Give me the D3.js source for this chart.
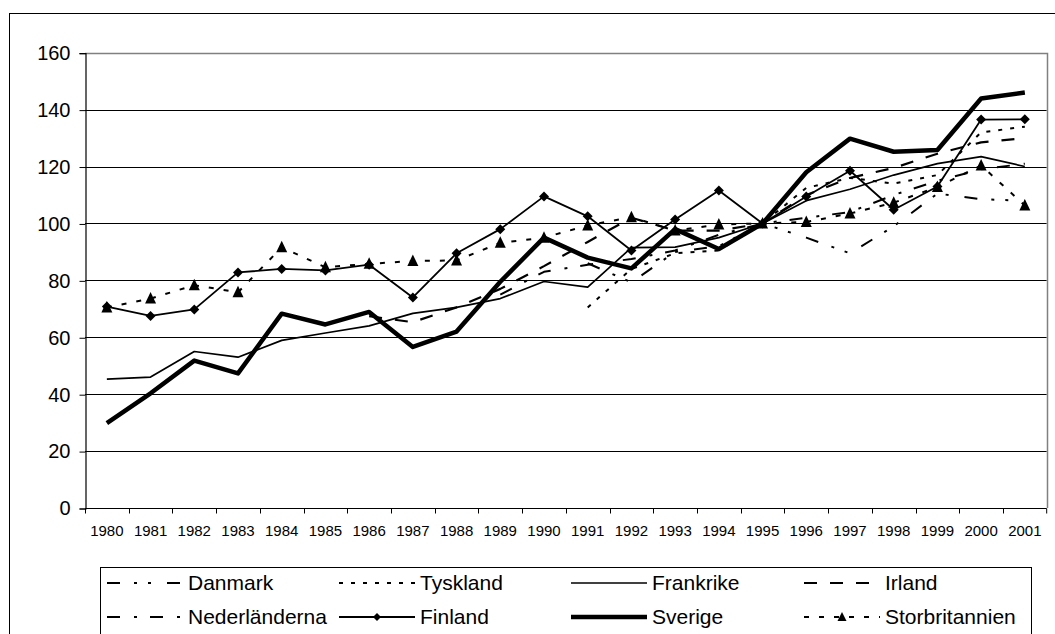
<!DOCTYPE html>
<html>
<head>
<meta charset="utf-8">
<script src="https://cdn.jsdelivr.net/npm/d3@7"></script>
<style>
  body { margin: 0; background: #fff; }
  text { font-family: "Liberation Sans", Arial, sans-serif; fill: #000; }
</style>
</head>
<body>
<svg id="chart"></svg>
<script>
// data, index 1995 = 100
var years = ["1980","1981","1982","1983","1984","1985","1986","1987","1988","1989","1990",
             "1991","1992","1993","1994","1995","1996","1997","1998","1999","2000","2001"]
var yTicks = [0, 20, 40, 60, 80, 100, 120, 140, 160]

var danmark = [null,null,null,null,null,null,null,null,null,null,null,
               86, 79.3, 90, 92, 100, 95, 89.5, 99, 110.5, 108.5, 108]
var tyskland = [null,null,null,null,null,null,null,null,null,null,null,
                70.5, 84, 89.5, 90.5, 100, 112.5, 116, 114, 117, 132, 134]
var frankrike = [45.3, 46, 55, 53, 58.9, 61.5, 64, 68.4, 70.5, 73.6, 79.6,
                 77.6, 91.5, 91.7, 95, 100, 108, 112, 117, 121, 123.5, 120]
var irland = [null,null,null,null,null,null, 67.4, 65.3, 70.5, 77, 85,
              93.5, 102, 97.5, 97.5, 100, 110, 116, 119.5, 124.5, 128.5, 130]
var nederlanderna = [null,null,null,null,null,null,null,null,null, 75, 83,
                     85.5, 87.5, 90.5, 96, 100, 102, 104, 110, 115, 119, 121]
var finland = [70.8, 67.5, 69.8, 82.8, 84, 83.5, 85.5, 74, 89.5, 98, 109.5,
               102.5, 90.5, 101.4, 111.6, 100, 109.5, 118.5, 104.8, 113, 136.5, 136.6]
var sverige = [29.8, 40.3, 51.8, 47.3, 68.3, 64.5, 68.9, 56.6, 62, 79.5, 95,
               88, 84.2, 98, 91, 100, 118, 129.8, 125.2, 125.8, 143.9, 146]
var storbritannien = [70.5, 73.6, 78.3, 75.8, 91.6, 84.6, 85.8, 86.8, 87, 93.2, 95,
                      99.3, 102.2, 97.5, 99.6, 100, 100.5, 103.5, 107.3, 112.8, 120.4, 106.3]

var series = [
  {name: "Danmark", values: danmark, width: 2, dash: "13,14,3,11,3,16"},
  {name: "Tyskland", values: tyskland, width: 2, dash: "4,8"},
  {name: "Frankrike", values: frankrike, width: 1.7, dash: null},
  {name: "Irland", values: irland, width: 2.2, dash: "13,13"},
  {name: "Nederländerna", values: nederlanderna, width: 2, dash: "13,14,3,13"},
  {name: "Finland", values: finland, width: 1.8, dash: null, marker: "diamond"},
  {name: "Sverige", values: sverige, width: 4.5, dash: null},
  {name: "Storbritannien", values: storbritannien, width: 2, dash: "5,10", marker: "triangle"}
]

// layout
const width = 1055
const height = 634
const plot = {left: 85, top: 52.7, right: 1046.7, bottom: 508}

var svg = d3.select("svg#chart").attr("width", width).attr("height", height)

// chart area frame
svg.append("rect")
  .attr("x", 9.5).attr("y", 13.5)
  .attr("width", width).attr("height", height)
  .attr("fill", "none").attr("stroke", "#000").attr("stroke-width", 1)

var x = d3.scaleBand()
  .domain(years)
  .range([plot.left, plot.right])
  .padding(0)

var y = d3.scaleLinear()
  .domain([0, 160])
  .range([plot.bottom, plot.top])

// gridlines
svg.append("g")
  .selectAll("line")
  .data(yTicks.filter(d => d > 0 && d < 160))
  .enter().append("line")
  .attr("x1", plot.left).attr("x2", plot.right)
  .attr("y1", d => Math.round(y(d)) + 0.5)
  .attr("y2", d => Math.round(y(d)) + 0.5)
  .attr("stroke", "#000").attr("stroke-width", 1)

// plot area border (top + right)
svg.append("path")
  .attr("d", "M" + plot.left + "," + (Math.round(plot.top) + 0.5) +
             "H" + (Math.round(plot.right) + 0.5) + "V" + plot.bottom)
  .attr("fill", "none").attr("stroke", "#808080").attr("stroke-width", 1.5)

// y axis
var yAxis = svg.append("g")
  .attr("transform", "translate(" + (plot.left + 0.5) + ",0.5)")
  .call(d3.axisLeft(y).tickValues(yTicks).tickSize(6).tickPadding(9))
yAxis.select(".domain").attr("stroke", "#000").attr("stroke-width", 1.2)
yAxis.selectAll(".tick line").attr("stroke", "#000")
yAxis.selectAll("text")
  .style("font-family", "'Liberation Sans', Arial, sans-serif")
  .style("font-size", "20px")
  .attr("fill", "#000")

// x axis, ticks between categories
var xAxis = svg.append("g")
  .attr("transform", "translate(0," + (Math.round(plot.bottom) + 0.5) + ")")
xAxis.append("line")
  .attr("x1", plot.left).attr("x2", plot.right)
  .attr("stroke", "#000").attr("stroke-width", 1.2)
xAxis.selectAll("line.tick")
  .data(years.concat(["end"]))
  .enter().append("line")
  .attr("class", "tick")
  .attr("x1", d => d === "end" ? plot.right : Math.round(x(d)) + 0.5)
  .attr("x2", d => d === "end" ? plot.right : Math.round(x(d)) + 0.5)
  .attr("y1", 0).attr("y2", 5)
  .attr("stroke", "#000")
xAxis.selectAll("text")
  .data(years)
  .enter().append("text")
  .attr("x", d => x(d) + x.bandwidth() / 2)
  .attr("y", 27)
  .attr("text-anchor", "middle")
  .style("font-size", "15px")
  .text(d => d)

// lines
var line = d3.line()
  .defined(d => d.v != null)
  .x(d => x(d.year) + x.bandwidth() / 2)
  .y(d => y(d.v))

var drawOrder = ["Danmark", "Tyskland", "Frankrike", "Irland", "Nederländerna", "Storbritannien", "Finland", "Sverige"]
var lines = svg.append("g")
drawOrder.forEach(function(nm) {
  var s = series.find(d => d.name === nm)
  var pts = years.map((yr, i) => ({year: yr, v: s.values[i]}))
  lines.append("path")
    .datum(pts)
    .attr("d", line)
    .attr("fill", "none")
    .attr("stroke", "#000")
    .attr("stroke-width", s.width)
    .attr("stroke-dasharray", s.dash)
    .attr("stroke-linejoin", "round")
  if (s.marker) {
    lines.append("g")
      .selectAll("path")
      .data(pts.filter(d => d.v != null))
      .enter().append("path")
      .attr("transform", d => "translate(" + (x(d.year) + x.bandwidth() / 2) + "," + y(d.v) + ")")
      .attr("d", s.marker === "diamond" ? "M0,-5L5,0L0,5L-5,0Z" : "M0,-6.5L5.5,5L-5.5,5Z")
      .attr("fill", "#000")
  }
})

// legend
var legend = svg.append("g")
legend.append("rect")
  .attr("x", 100.5).attr("y", 567.5)
  .attr("width", 931).attr("height", 100)
  .attr("fill", "#fff").attr("stroke", "#000").attr("stroke-width", 1)

var colX = [107, 339, 571, 804]
var rowY = [583, 617]
var legendOrder = ["Danmark", "Tyskland", "Frankrike", "Irland", "Nederländerna", "Finland", "Sverige", "Storbritannien"]
legendOrder.forEach(function(nm, i) {
  var s = series.find(d => d.name === nm)
  var lx = colX[i % 4], ly = rowY[Math.floor(i / 4)]
  legend.append("line")
    .attr("x1", lx).attr("x2", lx + 76)
    .attr("y1", ly).attr("y2", ly)
    .attr("stroke", "#000")
    .attr("stroke-width", s.width)
    .attr("stroke-dasharray", s.dash)
  if (s.marker) {
    legend.append("path")
      .attr("transform", "translate(" + (lx + 38) + "," + ly + ")")
      .attr("d", s.marker === "diamond" ? "M0,-4L4,0L0,4L-4,0Z" : "M0,-5L4.5,4L-4.5,4Z")
      .attr("fill", "#000")
  }
  legend.append("text")
    .attr("x", lx + 81)
    .attr("y", ly)
    .attr("dy", "0.35em")
    .style("font-size", "21px")
    .text(nm)
})
</script>
</body>
</html>
